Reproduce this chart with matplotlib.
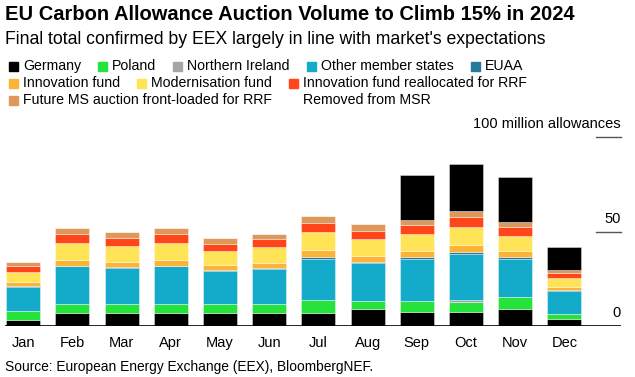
import matplotlib
matplotlib.use("Agg")
import matplotlib.pyplot as plt
import matplotlib.transforms as mtransforms
from matplotlib.patches import Rectangle
import numpy as np

plt.rcParams["font.family"] = ["Liberation Sans", "DejaVu Sans"]

MONTHS = ["Jan", "Feb", "Mar", "Apr", "May", "Jun",
          "Jul", "Aug", "Sep", "Oct", "Nov", "Dec"]

# million allowances per month
GERMANY = [3.2, 7.0, 7.0, 7.0, 7.0, 7.0, 7.0, 8.8, 7.2, 7.2, 9.1, 3.5]
POLAND = [4.7, 4.6, 4.6, 4.6, 4.6, 4.6, 7.0, 4.6, 5.8, 5.4, 6.0, 2.8]
N_IRELAND = [0, 0, 0, 0, 0, 0, 0, 0, 0, 1.2, 0, 0]
OTHER_MS = [12.6, 20.0, 19.3, 20.0, 17.5, 18.6, 21.4, 20.0, 22.6, 24.4, 20.5, 12.3]
EUAA = [0.7, 0.2, 0.5, 0.2, 0.5, 0.3, 0.9, 0.2, 0.7, 0.9, 0.9, 0.2]
INNOV_FUND = [1.9, 3.2, 2.6, 3.2, 2.5, 3.0, 3.7, 3.2, 3.3, 3.5, 3.2, 1.8]
MODERN_FUND = [5.6, 8.9, 8.4, 8.9, 7.5, 8.2, 9.6, 9.1, 8.9, 9.6, 8.1, 4.7]
INNOV_RRF = [3.0, 4.9, 4.2, 4.9, 3.9, 4.2, 4.7, 4.6, 4.7, 5.3, 4.6, 2.5]
FUTURE_RRF = [1.9, 3.2, 3.2, 3.2, 2.8, 2.8, 3.7, 3.5, 3.0, 3.2, 2.8, 1.9]
MSR = [0, 0, 0, 0, 0, 0, 0, 0, 23.5, 24.9, 23.7, 12.3]

SERIES = [
    ("Germany", GERMANY, "#000000"),
    ("Poland", POLAND, "#26e33b"),
    ("Northern Ireland", N_IRELAND, "#a5a5a5"),
    ("Other member states", OTHER_MS, "#14abcb"),
    ("EUAA", EUAA, "#277a9b"),
    ("Innovation fund", INNOV_FUND, "#fbb338"),
    ("Modernisation fund", MODERN_FUND, "#ffe458"),
    ("Innovation fund reallocated for RRF", INNOV_RRF, "#ff461a"),
    ("Future MS auction front-loaded for RRF", FUTURE_RRF, "#df975a"),
    ("Removed from MSR", MSR, "#000000"),
]
LEGEND_ROWS = [[0, 1, 2, 3, 4], [5, 6, 7], [8, 9]]

fig = plt.figure(figsize=(6.35, 3.77), dpi=100)
W, H = 635, 377


def fx(px):
    return px / W


def fy(py):
    return 1 - py / H


ax = fig.add_axes([fx(5), fy(326), fx(621) - fx(5), fy(137) - fy(326)])

xs = np.arange(len(MONTHS))
bottom = np.zeros(len(MONTHS))
for name, vals, color in SERIES:
    vals = np.array(vals, dtype=float)
    ax.bar(xs, vals, bottom=bottom, width=0.69, color=color,
           edgecolor=(1, 1, 1, 0.45), linewidth=0.6, zorder=2)
    bottom += vals

ax.set_xlim(-0.37, 12.15)
ax.set_ylim(0, 100)
for s in ax.spines.values():
    s.set_visible(False)
ax.set_yticks([])
ax.set_xticks(xs)
ax.set_xticklabels(MONTHS, fontsize=10.5)
ax.tick_params(axis="x", length=0, pad=7)
ax.axhline(0, color="black", linewidth=1.2, zorder=3)

# short gridlines and labels on the right
trans = mtransforms.blended_transform_factory(ax.transAxes, ax.transData)
for v in [50, 100]:
    ax.plot([0.96, 1.0], [v, v], color="#555555", linewidth=1,
            transform=trans, clip_on=False)
for v, lab in [(0, "0"), (50, "50"), (100, "100 million allowances")]:
    ax.text(1.0, v + 3, lab, transform=trans, ha="right", va="bottom",
            fontsize=10.5)

# title block
fig.text(fx(5), fy(14), "EU Carbon Allowance Auction Volume to Climb 15% in 2024",
         fontsize=14.5, fontweight="bold", va="center", ha="left")
fig.text(fx(5), fy(39), "Final total confirmed by EEX largely in line with market's expectations",
         fontsize=12.7, va="center", ha="left")

# legend, flow layout
renderer = fig.canvas.get_renderer()
row_y = [66, 83, 100]
for r, idxs in enumerate(LEGEND_ROWS):
    x = 9
    for i in idxs:
        name, _, color = SERIES[i]
        sw = color if name != "Removed from MSR" else "#ffffff"
        fig.patches.append(Rectangle((fx(x), fy(row_y[r] + 4.5)), fx(9), 9 / H,
                                     transform=fig.transFigure, color=sw))
        t = fig.text(fx(x + 14), fy(row_y[r]), name, fontsize=10.2,
                     va="center", ha="left")
        bb = t.get_window_extent(renderer)
        x = x + 14 + bb.width + 17

fig.text(fx(5), fy(367), "Source: European Energy Exchange (EEX), BloombergNEF.",
         fontsize=9.9, va="center", ha="left")

fig.savefig("out.png", dpi=100)
